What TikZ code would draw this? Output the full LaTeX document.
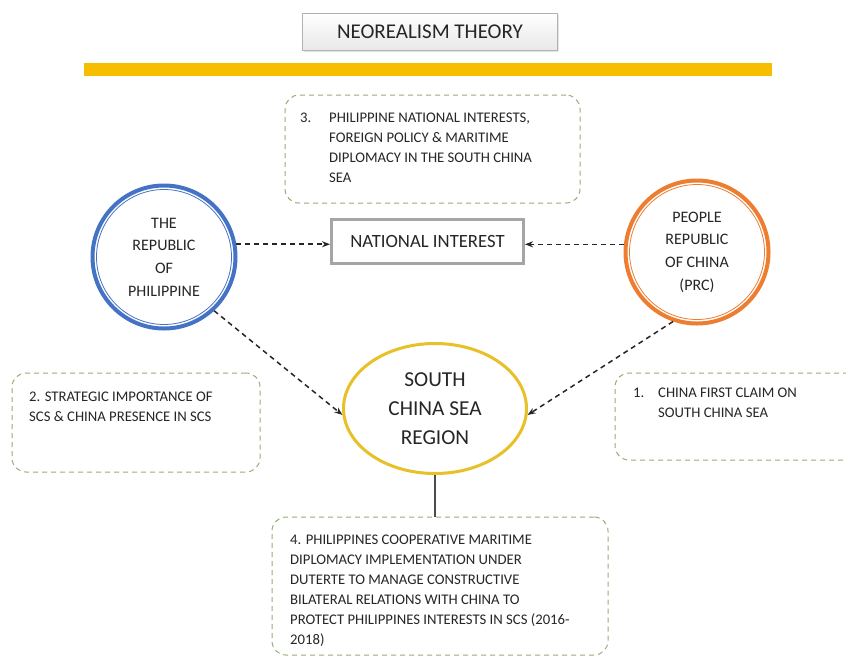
\documentclass[tikz,border=0pt]{standalone}
\usepackage{fontspec}
\setmainfont{Carlito}
\usetikzlibrary{positioning, calc, arrows.meta, shapes.geometric, shadows}

\definecolor{phlblue}{RGB}{68,114,196}
\definecolor{prcorange}{RGB}{237,125,49}
\definecolor{scsgold}{RGB}{232,192,40}
\definecolor{bargold}{RGB}{247,190,0}
\definecolor{notegreen}{RGB}{150,175,120}
\definecolor{boxgray}{RGB}{165,165,165}

\begin{document}
\begin{tikzpicture}[x=1pt, y=-1pt, text=black!85,
   notebox/.style={draw=notegreen, line width=1pt, dash pattern=on 5pt off 4pt, rounded corners=14pt, inner sep=0pt},
   notetext/.style={anchor=north west, align=left, inner sep=0pt, font=\fontsize{14.7}{20}\selectfont},
   link/.style={-{Stealth[length=8pt,width=6pt]}, dash pattern=on 5pt off 4pt, line width=1.5pt, black!85},
   state/.style={circle, draw, line width=4pt, minimum size=143pt, inner sep=0pt, align=center, font=\fontsize{16}{22.7}\selectfont}]

               \clip (0,0) rectangle (846,657);
               \fill[white] (0,0) rectangle (846,657);

               % title and bar
               \node[draw=gray!60, top color=white, bottom color=gray!18, minimum width=255pt, minimum height=37pt,
                     drop shadow={shadow xshift=1.5pt, shadow yshift=-1.5pt, fill=gray!40},
                     font=\fontsize{21}{24}\selectfont] (title) at (430,31.5) {NEOREALISM THEORY};
               \fill[bargold] (84,63) rectangle (772,76);

               % the two states and the region
               \node[state, draw=phlblue] (phl) at (164,257) {THE\\REPUBLIC\\OF\\PHILIPPINE};
               \draw[phlblue, line width=0.8pt] (phl.center) circle (67.5pt);
               \node[state, draw=prcorange] (prc) at (697,252) {PEOPLE\\REPUBLIC\\OF CHINA\\(PRC)};
               \draw[prcorange, line width=0.8pt] (prc.center) circle (67.5pt);
               \node[ellipse, draw=scsgold, line width=3pt, minimum width=183pt, minimum height=130pt, inner sep=0pt,
                     align=center, font=\fontsize{21.3}{29}\selectfont] (scs) at (435,408.5) {SOUTH\\CHINA SEA\\REGION};
               \node[draw=boxgray, line width=3pt, minimum width=192pt, minimum height=44pt,
                     font=\fontsize{18.7}{22}\selectfont] (ni) at (427.5,241.5) {NATIONAL INTEREST};

               % notes
               \node[notebox, minimum width=295pt, minimum height=108pt] (n3) at (432.5,149) {};
               \node[notetext] (t3) at (300,113) {\makebox[29pt][l]{3.}PHILIPPINE NATIONAL INTERESTS,\\
                     \hspace*{29pt}FOREIGN POLICY \& MARITIME\\
                     \hspace*{29pt}DIPLOMACY IN THE SOUTH CHINA\\
                     \hspace*{29pt}SEA};
               \node[notebox, minimum width=248pt, minimum height=99pt] (n2) at (136,422.5) {};
               \node[notetext] (t2) at (29,392) {2. STRATEGIC IMPORTANCE OF\\SCS \& CHINA PRESENCE IN SCS};
               \node[notebox, minimum width=265pt, minimum height=87pt] (n1) at (747.5,416.5) {};
               \node[notetext] (t1) at (633,388) {\makebox[25pt][l]{1.}CHINA FIRST CLAIM ON\\
                     \hspace*{25pt}SOUTH CHINA SEA};
               \node[notebox, minimum width=336pt, minimum height=138pt] (n4) at (440,586) {};
               \node[notetext] (t4) at (290,535) {4. PHILIPPINES COOPERATIVE MARITIME\\
                     DIPLOMACY IMPLEMENTATION UNDER\\
                     DUTERTE TO MANAGE CONSTRUCTIVE\\
                     BILATERAL RELATIONS WITH CHINA TO\\
                     PROTECT PHILIPPINES INTERESTS IN SCS (2016-\\
                     2018)};

               % connectors
               \draw[link] (phl.10) -- (phl.10 -| ni.west);
               \draw[link] (prc.174) -- (prc.174 -| ni.east);
               \draw[link] (phl.-47) -- (scs.184);
               \draw[link] (prc.-109) -- (scs.-4);
               \draw[gray!60!black, line width=1.2pt] (scs.south) -- (scs.south |- n4.north);
          \end{tikzpicture}
\end{document}
